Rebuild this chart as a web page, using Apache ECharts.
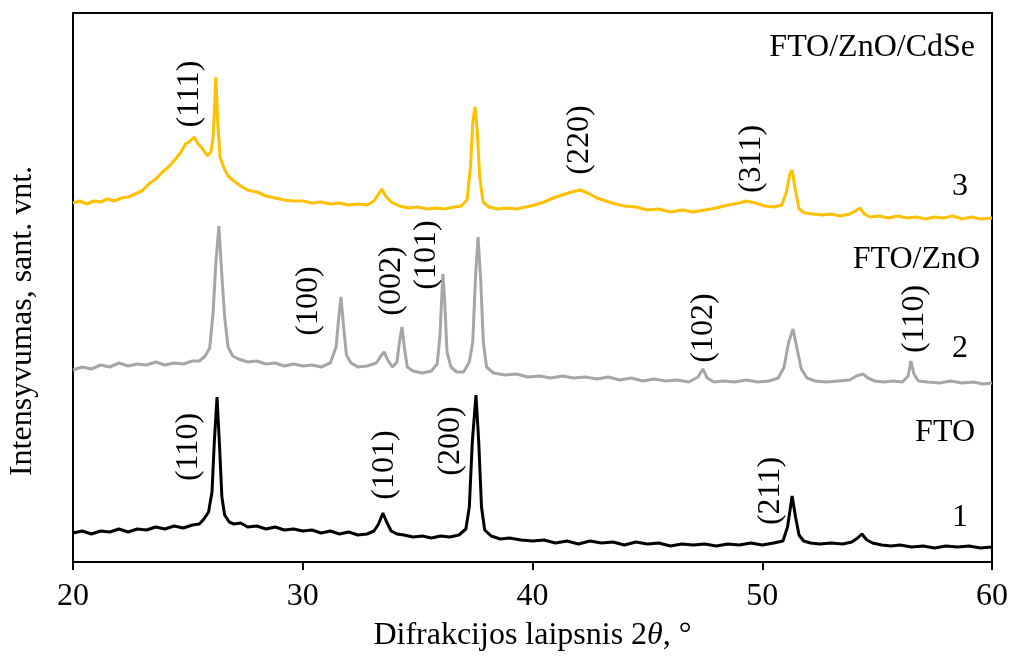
<!DOCTYPE html>
<html lang="lt">
  <head>
    <meta charset="UTF-8" />
    <script src="https://cdn.jsdelivr.net/npm/echarts@6/dist/echarts.min.js"></script>
    <title>XRD</title>
    <style>
      html, body { margin: 0; padding: 0; background: #fff; }
    </style>
  </head>
  <body>
    <div id="app" style="width: 1011px; height: 660px"></div>

    <script>
      // 2theta, intensyvumas (santykiniai vnt., kreivės paslinktos viena virš kitos)
      const fto = [
        [20.0, 29], [20.4, 31], [20.8, 28], [21.2, 31], [21.6, 30], [22.0, 33], [22.4, 30], [22.8, 33],
        [23.2, 32], [23.6, 35], [24.0, 33], [24.4, 36], [24.8, 34], [25.2, 37], [25.5, 38], [25.7, 43],
        [25.9, 50], [26.05, 70], [26.15, 120], [26.27, 165], [26.38, 115], [26.48, 65], [26.6, 47],
        [26.8, 40], [27.0, 38], [27.3, 39], [27.6, 35], [28.0, 36], [28.4, 33], [28.8, 35], [29.2, 32],
        [29.6, 33], [30.0, 31], [30.4, 32], [30.8, 29], [31.2, 31], [31.6, 28], [32.0, 30], [32.4, 27],
        [32.8, 28], [33.1, 31], [33.3, 38], [33.49, 49], [33.65, 40], [33.85, 31], [34.1, 28], [34.4, 27],
        [34.8, 25], [35.2, 26], [35.6, 24], [36.0, 26], [36.4, 25], [36.8, 27], [37.1, 33], [37.25, 55],
        [37.38, 120], [37.54, 167], [37.66, 120], [37.78, 55], [37.92, 32], [38.2, 26], [38.6, 23],
        [39.0, 24], [39.5, 22], [40.0, 21], [40.5, 22], [41.0, 19], [41.5, 21], [42.0, 18], [42.5, 21],
        [43.0, 19], [43.5, 20], [44.0, 17], [44.5, 20], [45.0, 18], [45.5, 19], [46.0, 16], [46.5, 18],
        [47.0, 17], [47.5, 18], [48.0, 16], [48.5, 18], [49.0, 17], [49.5, 19], [50.0, 17], [50.5, 19],
        [50.9, 21], [51.1, 35], [51.3, 66], [51.45, 45], [51.6, 27], [51.8, 21], [52.1, 19], [52.5, 18],
        [53.0, 19], [53.5, 18], [53.9, 20], [54.15, 24], [54.34, 28], [54.55, 22], [54.8, 19], [55.2, 17],
        [55.6, 16], [56.0, 17], [56.5, 15], [57.0, 16], [57.5, 14], [58.0, 16], [58.5, 15], [59.0, 16],
        [59.5, 14], [60.0, 15]
      ];

      const ftoZnO = [
        [20.0, 192], [20.4, 195], [20.8, 193], [21.2, 197], [21.6, 195], [22.0, 199], [22.4, 196],
        [22.8, 198], [23.2, 197], [23.6, 200], [24.0, 197], [24.4, 199], [24.8, 198], [25.2, 201],
        [25.5, 201], [25.75, 206], [25.95, 214], [26.1, 250], [26.22, 300], [26.35, 336], [26.47, 290],
        [26.6, 245], [26.75, 215], [26.95, 206], [27.2, 203], [27.6, 200], [28.0, 201], [28.4, 198],
        [28.8, 199], [29.2, 196], [29.6, 198], [30.0, 196], [30.4, 197], [30.8, 195], [31.2, 199],
        [31.45, 215], [31.57, 245], [31.66, 265], [31.76, 240], [31.9, 207], [32.1, 199], [32.4, 195],
        [32.8, 196], [33.2, 199], [33.4, 206], [33.54, 210], [33.7, 202], [33.9, 195], [34.1, 200],
        [34.22, 222], [34.32, 235], [34.42, 215], [34.55, 195], [34.8, 191], [35.2, 189], [35.6, 191],
        [35.85, 198], [35.97, 225], [36.05, 265], [36.1, 288], [36.18, 260], [36.28, 210], [36.45, 195],
        [36.7, 190], [37.0, 190], [37.25, 200], [37.4, 220], [37.52, 285], [37.63, 325], [37.74, 285],
        [37.86, 220], [38.0, 195], [38.3, 189], [38.8, 187], [39.3, 188], [39.8, 185], [40.3, 186],
        [40.8, 184], [41.3, 186], [41.8, 184], [42.3, 185], [42.8, 183], [43.3, 185], [43.8, 182],
        [44.3, 184], [44.8, 181], [45.3, 183], [45.8, 181], [46.3, 182], [46.8, 180], [47.2, 185],
        [47.42, 193], [47.6, 184], [47.9, 180], [48.3, 181], [48.8, 180], [49.3, 182], [49.8, 180],
        [50.3, 181], [50.7, 184], [50.95, 195], [51.15, 220], [51.34, 233], [51.5, 215], [51.7, 193],
        [51.95, 184], [52.3, 181], [52.8, 180], [53.3, 181], [53.8, 182], [54.1, 186], [54.38, 188],
        [54.6, 184], [54.9, 181], [55.3, 180], [55.7, 181], [56.1, 180], [56.35, 186], [56.47, 201],
        [56.6, 188], [56.8, 181], [57.2, 180], [57.7, 179], [58.2, 181], [58.7, 179], [59.2, 180],
        [59.6, 178], [60.0, 179]
      ];

      const ftoZnOCdSe = [
        [20.0, 359], [20.3, 361], [20.6, 358], [20.9, 361], [21.2, 360], [21.5, 363], [21.8, 361],
        [22.1, 364], [22.4, 365], [22.7, 368], [23.0, 371], [23.3, 378], [23.6, 383], [23.9, 390],
        [24.2, 396], [24.5, 404], [24.7, 410], [24.9, 418], [25.1, 421], [25.27, 425], [25.45, 418],
        [25.65, 413], [25.85, 406], [26.0, 410], [26.1, 425], [26.17, 460], [26.22, 485], [26.3, 440],
        [26.4, 405], [26.55, 395], [26.75, 386], [27.0, 381], [27.3, 376], [27.6, 372], [28.0, 370],
        [28.4, 366], [28.8, 364], [29.2, 362], [29.6, 361], [30.0, 361], [30.4, 359], [30.8, 360],
        [31.2, 358], [31.6, 359], [32.0, 357], [32.4, 358], [32.8, 357], [33.1, 361], [33.3, 368],
        [33.45, 373], [33.6, 366], [33.85, 360], [34.2, 356], [34.6, 354], [35.0, 355], [35.4, 353],
        [35.8, 354], [36.2, 353], [36.6, 355], [36.9, 356], [37.15, 362], [37.3, 395], [37.4, 440],
        [37.5, 455], [37.6, 430], [37.7, 385], [37.85, 360], [38.1, 355], [38.5, 353], [38.9, 354],
        [39.3, 353], [39.7, 355], [40.1, 357], [40.5, 360], [40.9, 364], [41.3, 367], [41.7, 370],
        [42.07, 372], [42.4, 369], [42.8, 364], [43.2, 361], [43.6, 358], [44.0, 356], [44.5, 355],
        [45.0, 352], [45.5, 353], [46.0, 350], [46.5, 352], [47.0, 350], [47.5, 352], [48.0, 354],
        [48.5, 357], [49.0, 359], [49.3, 361], [49.7, 359], [50.1, 356], [50.5, 355], [50.85, 357],
        [51.05, 370], [51.2, 388], [51.3, 392], [51.42, 375], [51.6, 353], [51.85, 349], [52.2, 348],
        [52.6, 347], [53.0, 348], [53.4, 346], [53.8, 348], [54.05, 351], [54.25, 354], [54.45, 348],
        [54.7, 345], [55.1, 346], [55.5, 344], [55.9, 346], [56.3, 344], [56.7, 345], [57.1, 343],
        [57.5, 345], [57.9, 344], [58.3, 346], [58.7, 343], [59.1, 345], [59.5, 343], [60.0, 344]
      ];

      // Miller indeksai virš smailių: [2theta, aukštis, tekstas]
      const peakLabels = [
        [25.09, 468, "(111)"], [42.07, 422, "(220)"], [49.55, 403, "(311)"],
        [30.27, 261, "(100)"], [33.88, 281, "(002)"], [35.41, 307, "(101)"],
        [47.46, 234, "(102)"], [56.65, 243, "(110)"],
        [25.05, 115, "(110)"], [33.58, 97, "(101)"], [36.45, 121, "(200)"], [50.38, 71, "(211)"]
      ];
      const sampleNames = [
        [59.26, 514, "FTO/ZnO/CdSe"], [59.48, 302, "FTO/ZnO"], [59.26, 129, "FTO"]
      ];
      const curveNumbers = [
        [58.61, 375, "3"], [58.61, 213, "2"], [58.61, 44, "1"]
      ];
      const xTicks = [20, 30, 40, 50, 60];

      const font = "'Liberation Serif', 'Times New Roman', serif";
      const fs = 32;

      const chart = echarts.init(document.getElementById("app"));

      function textSeries(rows, label) {
        return {
          type: "scatter",
          symbolSize: 0,
          silent: true,
          z: 10,
          itemStyle: { opacity: 1 },
          data: rows.map((r) => ({ value: [r[0], r[1]], name: r[2] })),
          label: Object.assign(
            {
              show: true,
              formatter: "{b}",
              color: "#000",
              opacity: 1,
              textBorderWidth: 0,
              fontFamily: font,
              fontSize: fs,
            },
            label
          ),
        };
      }

      chart.setOption({
        animation: false,
        backgroundColor: "#fff",
        grid: {
          left: 73,
          right: 19,
          top: 13,
          bottom: 98,
          show: true,
          borderColor: "#000",
          borderWidth: 2,
        },
        xAxis: {
          type: "value",
          min: xTicks[0],
          max: xTicks[xTicks.length - 1],
          interval: 10,
          axisLine: { lineStyle: { color: "#000", width: 2 } },
          axisTick: { show: true, inside: false, length: 8, lineStyle: { color: "#000", width: 2 } },
          splitLine: { show: false },
          axisLabel: { color: "#000", fontFamily: font, fontSize: fs, margin: 19 },
          name: "{a|Difrakcijos laipsnis 2}{i|θ}{a|, °}",
          nameLocation: "middle",
          nameGap: 58,
          nameTextStyle: {
            rich: {
              a: { fontFamily: font, fontSize: fs, color: "#000" },
              i: { fontFamily: font, fontSize: fs, color: "#000", fontStyle: "italic" },
            },
          },
        },
        yAxis: {
          type: "value",
          min: 0,
          max: 549,
          axisLine: { show: true, lineStyle: { color: "#000", width: 2 } },
          axisTick: { show: false },
          axisLabel: { show: false },
          splitLine: { show: false },
        },
        graphic: [
          {
            type: "text",
            x: 23,
            y: 321,
            rotation: Math.PI / 2,
            style: {
              text: "Intensyvumas, sant. vnt.",
              fontFamily: font,
              fontSize: fs,
              fill: "#000",
              align: "center",
              verticalAlign: "middle",
            },
          },
        ],
        series: [
          {
            name: "FTO",
            type: "line",
            data: fto,
            showSymbol: false,
            lineStyle: { color: "#000000", width: 3 },
          },
          {
            name: "FTO/ZnO",
            type: "line",
            data: ftoZnO,
            showSymbol: false,
            lineStyle: { color: "#A6A6A6", width: 3 },
          },
          {
            name: "FTO/ZnO/CdSe",
            type: "line",
            data: ftoZnOCdSe,
            showSymbol: false,
            lineStyle: { color: "#FFC000", width: 3 },
          },
          textSeries(peakLabels, { position: "inside", rotate: 90 }),
          textSeries(sampleNames, { position: "left", distance: 0 }),
          textSeries(curveNumbers, { position: "inside" }),
        ],
      });
    </script>
  </body>
</html>
